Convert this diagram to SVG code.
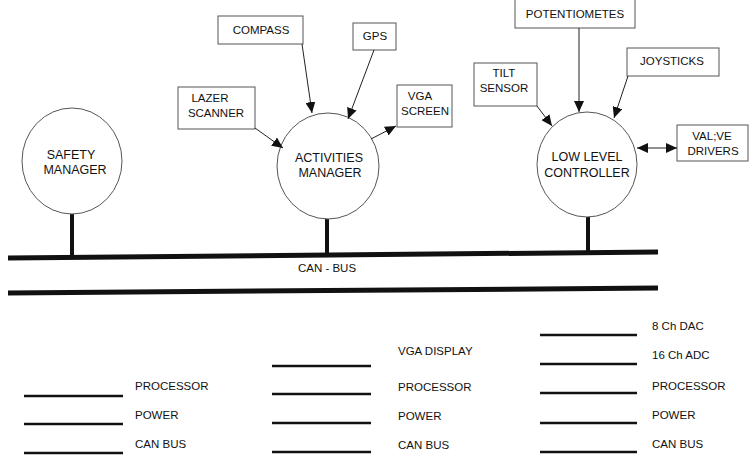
<svg xmlns="http://www.w3.org/2000/svg" width="751" height="455" viewBox="0 0 751 455">
<defs>
<marker id="arr" markerUnits="userSpaceOnUse" markerWidth="11" markerHeight="10" refX="11" refY="5" orient="auto-start-reverse">
<path d="M0,0 L11,5 L0,10 z" fill="#111"/>
</marker>
</defs>
<style>
text{font-family:"Liberation Sans",Arial,sans-serif;fill:#111;font-size:11.5px;}
.c{text-anchor:middle}
.big{font-size:12.5px}
.node{fill:#fff;stroke:#555;stroke-width:1}
.box{fill:#fff;stroke:#555;stroke-width:1}
.con{stroke:#222;stroke-width:1;fill:none;marker-end:url(#arr)}
.stem{stroke:#111;stroke-width:4}
.bus{stroke:#111;stroke-width:5}
.leg{stroke:#111;stroke-width:2.5}
</style>
<rect width="751" height="455" fill="#fff"/>

<g id="bus">
<line class="bus" x1="8" y1="258" x2="658" y2="252"/>
<line class="bus" x1="8" y1="293" x2="658" y2="288"/>
<line class="stem" x1="72" y1="214" x2="72" y2="257"/>
<line class="stem" x1="327" y1="218" x2="327" y2="255"/>
<line class="stem" x1="588" y1="216" x2="588" y2="253"/>
<text class="c" x="327" y="272">CAN - BUS</text>
</g>

<g id="safety-manager">
<ellipse class="node" cx="72" cy="161" rx="50" ry="53"/>
<text class="c big" x="71" y="159">SAFETY</text>
<text class="c big" x="75" y="174">MANAGER</text>
</g>

<g id="activities-manager">
<ellipse class="node" cx="328" cy="166" rx="51" ry="53"/>
<text class="c big" x="329" y="162">ACTIVITIES</text>
<text class="c big" x="330" y="177">MANAGER</text>
</g>

<g id="low-level-controller">
<ellipse class="node" cx="587" cy="164.5" rx="50" ry="52.5"/>
<text class="c big" x="587" y="161">LOW LEVEL</text>
<text class="c big" x="587" y="177">CONTROLLER</text>
</g>

<g id="compass">
<rect class="box" x="218" y="16" width="85" height="28"/>
<text class="c" x="261" y="34">COMPASS</text>
</g>
<g id="gps">
<rect class="box" x="353" y="23" width="43" height="27"/>
<text class="c" x="375" y="40">GPS</text>
</g>
<g id="lazer-scanner">
<rect class="box" x="178" y="87" width="77" height="42"/>
<text class="c" x="210" y="102">LAZER</text>
<text class="c" x="216" y="117">SCANNER</text>
</g>
<g id="vga-screen">
<rect class="box" x="397" y="85" width="55" height="42"/>
<text class="c" x="420" y="100">VGA</text>
<text class="c" x="425" y="115">SCREEN</text>
</g>
<g id="potentiometes">
<rect class="box" x="515" y="-1" width="120" height="29"/>
<text class="c" x="575" y="18">POTENTIOMETES</text>
</g>
<g id="joysticks">
<rect class="box" x="627" y="48" width="92" height="28"/>
<text class="c" x="672" y="65">JOYSTICKS</text>
</g>
<g id="tilt-sensor">
<rect class="box" x="474" y="63" width="63" height="43"/>
<text class="c" x="504" y="77">TILT</text>
<text class="c" x="504" y="92">SENSOR</text>
</g>
<g id="valve-drivers">
<rect class="box" x="677" y="125" width="71" height="36"/>
<text class="c" x="712" y="140">VAL;VE</text>
<text class="c" x="713" y="155">DRIVERS</text>
</g>

<g id="connectors">
<line class="con" x1="302" y1="44" x2="312" y2="113"/>
<line class="con" x1="374" y1="50" x2="348" y2="119"/>
<line class="con" x1="255" y1="128" x2="283" y2="148"/>
<line class="con" x1="371" y1="139" x2="396" y2="126"/>
<line class="con" x1="579" y1="28" x2="579" y2="112"/>
<line class="con" x1="628" y1="76" x2="614" y2="118"/>
<line class="con" x1="537" y1="106" x2="552" y2="126"/>
<line class="con" x1="637" y1="148" x2="677" y2="148" style="marker-start:url(#arr)"/>
</g>

<g id="legend">
<line class="leg" x1="24" y1="396" x2="123" y2="396"/>
<line class="leg" x1="24" y1="424" x2="123" y2="424"/>
<line class="leg" x1="24" y1="453" x2="123" y2="453"/>
<text x="135" y="390">PROCESSOR</text>
<text x="135" y="419">POWER</text>
<text x="135" y="448">CAN BUS</text>

<line class="leg" x1="272" y1="366" x2="371" y2="366"/>
<line class="leg" x1="272" y1="394" x2="371" y2="394"/>
<line class="leg" x1="272" y1="423" x2="371" y2="423"/>
<line class="leg" x1="272" y1="452" x2="371" y2="452"/>
<text x="398" y="355">VGA DISPLAY</text>
<text x="398" y="391">PROCESSOR</text>
<text x="398" y="420">POWER</text>
<text x="398" y="449">CAN BUS</text>

<line class="leg" x1="540" y1="335" x2="637" y2="335"/>
<line class="leg" x1="540" y1="364" x2="637" y2="364"/>
<line class="leg" x1="540" y1="393" x2="637" y2="393"/>
<line class="leg" x1="540" y1="423" x2="637" y2="423"/>
<line class="leg" x1="540" y1="452" x2="637" y2="452"/>
<text x="652" y="330">8 Ch DAC</text>
<text x="652" y="359">16 Ch ADC</text>
<text x="652" y="390">PROCESSOR</text>
<text x="652" y="419">POWER</text>
<text x="652" y="448">CAN BUS</text>
</g>
</svg>
